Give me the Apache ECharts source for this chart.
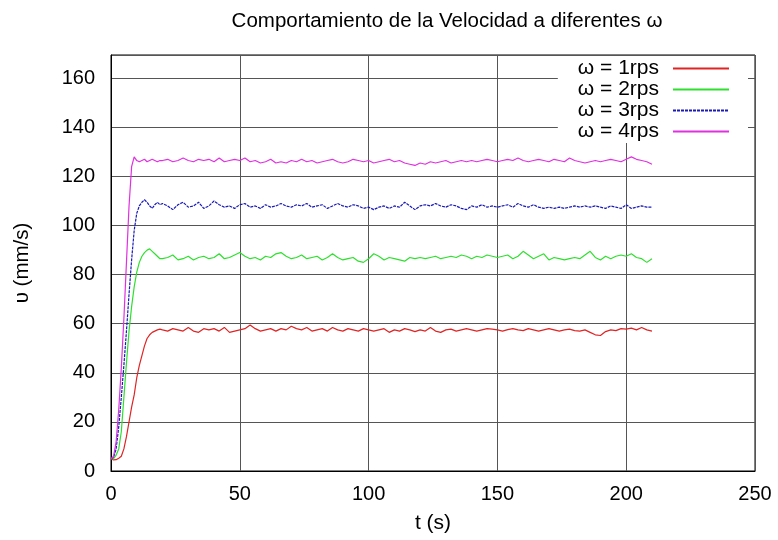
<!DOCTYPE html>
<html>
<head>
<meta charset="utf-8">
<script src="https://cdn.jsdelivr.net/npm/echarts@6/dist/echarts.min.js"></script>
<style>
  html, body { margin: 0; padding: 0; background: #fff; }
  #main { width: 778px; height: 540px; }
</style>
</head>
<body>
<div id="main"></div>
<script>
// tiempos del arranque (s)
var riseTimes = [0, 1, 2, 3, 4, 5, 6, 7, 8, 9, 10, 11, 12, 13, 14, 15, 16, 17, 18, 19];
// regimen: desde t = 20 s cada 2 s
var steadyStart = 20;
var steadyStep = 2;

var seriesNames = ["\u03c9 = 1rps", "\u03c9 = 2rps", "\u03c9 = 3rps", "\u03c9 = 4rps"];

var rise1 = [5, 4.5, 4.6, 5.2, 6, 9, 14, 20, 26, 31, 38, 43, 47, 51, 54, 55.5, 56.5, 57, 57.5, 57.8];
var rise2 = [5, 5, 6.5, 9, 16, 30, 44, 57, 67, 75, 81, 85, 87.5, 89, 90, 90.5, 89.5, 88.5, 87.5, 86.5];
var rise3 = [5, 5.5, 9, 18, 30, 43, 57, 72, 86, 98, 105, 108, 109.5, 110.5, 109.5, 108, 107, 108.5, 109.5, 108.5];
var rise4 = [5, 6, 12, 25, 42, 62, 85, 108, 124, 128, 126.5, 126, 126.5, 127, 126, 126.5, 127, 126.5, 126, 126.5];

var steady1 = [57.5, 57, 58, 57.5, 57, 58.5, 57, 56.5, 58, 57.5, 58, 57, 58.5, 56.5, 57, 57.5, 58, 59.5, 58, 57,
  57.5, 58, 57, 58, 57.5, 59, 58, 57.5, 58.5, 57, 57.5, 58, 57, 58.5, 57.5, 57, 58, 57.5, 57, 58,
  57.5, 57, 57.5, 58, 56.5, 57.5, 57, 58, 57.5, 56.8, 57.5, 57, 58.5, 57, 56.5, 57.5, 57.8, 57, 57.5, 58,
  57.5, 57, 57.5, 58, 57.8, 57.5, 57, 57.6, 58, 57.5, 57.2, 58, 57.5, 57, 57.5, 58, 57.5, 57, 57.5, 57.8,
  57.2, 57, 57.5, 56.5, 55.5, 55.2, 56.8, 57.5, 57.2, 58, 57.8, 58.2, 57.5, 58.5, 57.5, 57];
var steady2 = [86.5, 87, 88, 86, 86.5, 87.5, 86, 87, 87.5, 86.5, 87, 88.5, 86.5, 87, 88, 89, 87.5, 86.5, 87, 86,
  87.5, 87, 88.5, 89, 87.5, 86.5, 87, 88, 86.5, 87, 87.5, 86, 87, 88.5, 87, 86, 86.5, 87, 85.5, 85,
  86.5, 88.5, 87.5, 86, 87, 86.5, 86, 85.5, 87, 86.5, 87, 86.5, 87, 87.5, 86.5, 87, 87.5, 87, 88, 87.5,
  86.5, 87.5, 87, 88, 87.5, 87, 87.5, 88, 86.5, 87.5, 89.5, 88, 86.5, 87.5, 88.5, 86, 87, 86.5, 86, 86.5,
  87, 86.5, 88, 89.5, 87, 86, 87.5, 86.5, 87.5, 88, 87.5, 88.5, 87, 86.5, 85, 86.5];
var steady3 = [109, 108, 106.5, 108.5, 109.5, 107.5, 108, 109.5, 107, 108, 110, 108.5, 107.5, 108, 107, 108.5, 109, 107.5, 108, 107,
  108.5, 107.5, 108, 109, 108, 107.5, 108.5, 108, 109, 107.5, 108, 108.5, 107, 108, 109, 108, 107.5, 108.5, 108, 107,
  107.5, 106.5, 107.5, 108, 107, 108, 107.5, 109.5, 108, 106.5, 108, 108.5, 108, 109, 108, 107.5, 108.5, 108, 107, 106.5,
  108, 107.5, 108.5, 107.5, 108, 107.5, 108, 108.5, 107.5, 109, 108, 107.5, 108.5, 107.5, 107, 107.5, 107, 107.5, 107, 107.5,
  108, 107.5, 108, 107.5, 108, 107.5, 107, 108, 107.5, 107, 108.5, 107, 107.5, 108, 107.5, 107.5];
var steady4 = [126.5, 127, 126, 126.5, 127.5, 126.5, 126, 127, 126.5, 127, 126, 127.5, 126, 126.5, 127, 126.5, 127.5, 126, 126.5, 125.5,
  126, 127, 125.5, 126, 125.5, 126.5, 126, 127, 126, 126.5, 125.5, 126, 126.5, 127, 126, 125.5, 126, 127, 126.5, 126,
  126.5, 125.5, 126, 126.5, 127, 126, 126.5, 125.5, 125, 124.5, 125.5, 125, 126, 125.5, 126, 126.5, 125.5, 126, 126.5, 126,
  126.5, 126, 126.5, 127, 126.5, 126, 126.5, 127, 126.5, 127.5, 126.5, 126, 126.5, 127, 126.5, 126, 127, 126.5, 126, 127.5,
  126.5, 126, 125.5, 126, 126.5, 126, 126.5, 127, 126.5, 126, 127, 128, 127, 126.5, 126, 125];

var xTicks = [0, 50, 100, 150, 200, 250];
var yTicks = [0, 20, 40, 60, 80, 100, 120, 140, 160];

var colors = ["#e02424", "#2ee02e", "#1a1ab8", "#e030e0"];

function buildSeries(rise, steady) {
  var pts = [];
  for (var i = 0; i < rise.length; i++) {
    pts.push([riseTimes[i], rise[i]]);
  }
  for (var j = 0; j < steady.length; j++) {
    pts.push([steadyStart + j * steadyStep, steady[j]]);
  }
  return pts;
}

var allData = [
  buildSeries(rise1, steady1),
  buildSeries(rise2, steady2),
  buildSeries(rise3, steady3),
  buildSeries(rise4, steady4)
];

var myChart = echarts.init(document.getElementById("main"));
var font = "'Liberation Sans', Arial, Helvetica, sans-serif";

myChart.setOption({
  animation: false,
  title: {
    text: "Comportamiento de la Velocidad a diferentes \u03c9",
    left: 442,
    top: 6,
    textAlign: "center",
    textStyle: { fontFamily: font, fontSize: 20.5, fontWeight: "normal", color: "#000" }
  },
  legend: {
    data: seriesNames,
    orient: "vertical",
    right: 30,
    top: 56,
    align: "right",
    backgroundColor: "#fff",
    padding: [2, 18, 1, 20],
    itemWidth: 56,
    itemHeight: 10,
    itemGap: 0,
    itemStyle: { opacity: 0 },
    textStyle: { fontFamily: font, fontSize: 21, color: "#000", padding: [0, 9, 0, 0] }
  },
  grid: {
    left: 111,
    right: 23,
    top: 55,
    bottom: 69,
    show: true,
    borderColor: "#000",
    borderWidth: 1,
    containLabel: false
  },
  xAxis: {
    type: "value",
    min: xTicks[0],
    max: xTicks[xTicks.length - 1],
    interval: 50,
    name: "t (s)",
    nameLocation: "middle",
    nameGap: 42,
    nameTextStyle: { fontFamily: font, fontSize: 21, color: "#000" },
    axisLine: { show: true, lineStyle: { color: "#000", width: 1 } },
    axisTick: { show: false },
    axisLabel: { fontFamily: font, fontSize: 20, color: "#000", margin: 13 },
    splitLine: { show: true, lineStyle: { color: "#555", width: 1 } }
  },
  yAxis: {
    type: "value",
    min: yTicks[0],
    max: 169.5,
    interval: 20,
    name: "\u03c5 (mm/s)",
    nameLocation: "middle",
    nameGap: 78,
    nameRotate: 90,
    nameTextStyle: { fontFamily: font, fontSize: 20.5, color: "#000" },
    axisLine: { show: true, lineStyle: { color: "#000", width: 1 } },
    axisTick: { show: false },
    axisLabel: {
      fontFamily: font, fontSize: 20, color: "#000", margin: 16,
      formatter: function (v) { return yTicks.indexOf(v) >= 0 ? String(v) : ""; }
    },
    splitLine: { show: true, lineStyle: { color: "#555", width: 1 } }
  },
  series: allData.map(function (d, k) {
    return {
      name: seriesNames[k],
      type: "line",
      data: d,
      symbol: "none",
      smooth: false,
      color: colors[k],
      lineStyle: { color: colors[k], width: 1.2, type: k === 2 ? [3, 1] : "solid" },
      z: 3
    };
  })
});
</script>
</body>
</html>
